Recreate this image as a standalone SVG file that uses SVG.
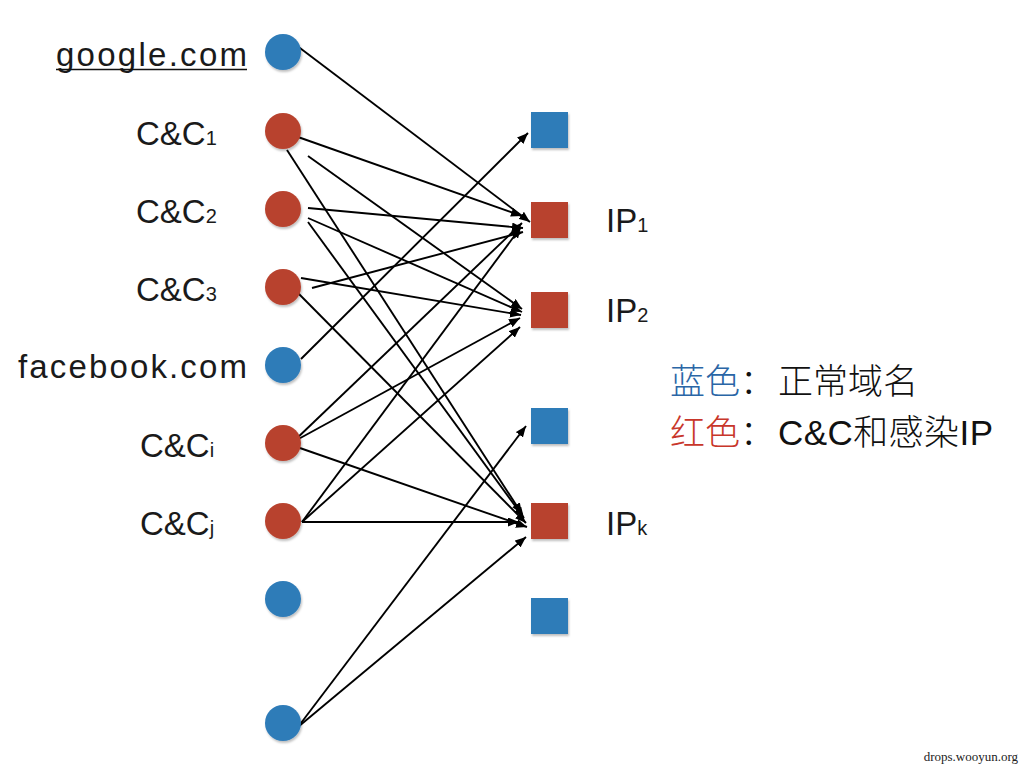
<svg xmlns="http://www.w3.org/2000/svg" width="1024" height="768" viewBox="0 0 1024 768">
<style>
.lbl{font-family:"Liberation Sans","Noto Sans",Arial,sans-serif;font-size:33px;fill:#1a1a1a}
.sub{font-size:20px}
.blue{fill:#2e7bb8}
.red{fill:#b8432f}
.edge{stroke:#000;stroke-width:1.9;fill:none;marker-end:url(#arr)}
.leg{font-family:"Liberation Sans","Noto Sans CJK SC",sans-serif;font-size:35px;fill:#111;font-weight:300}
.wm{font-family:"Liberation Serif",serif;font-size:13px;fill:#222}
</style>
<defs>
<marker id="arr" markerUnits="userSpaceOnUse" markerWidth="11" markerHeight="9" refX="11" refY="4.5" orient="auto">
<path d="M0,0 L11,4.5 L0,9 z" fill="#000"/>
</marker>
<filter id="sh" x="-30%" y="-30%" width="160%" height="160%">
<feDropShadow dx="1" dy="2" stdDeviation="1.2" flood-color="#000" flood-opacity="0.25"/>
</filter>
</defs>
<rect width="1024" height="768" fill="#fff"/>

<g id="connectors">
<line class="edge" x1="292" y1="42" x2="530" y2="222"/>
<line class="edge" x1="298" y1="137" x2="522" y2="216"/>
<line class="edge" x1="287" y1="150" x2="522" y2="514"/>
<line class="edge" x1="308" y1="156" x2="522" y2="309"/>
<line class="edge" x1="308" y1="208" x2="523" y2="228"/>
<line class="edge" x1="308" y1="218" x2="522" y2="312"/>
<line class="edge" x1="308" y1="222" x2="524" y2="518"/>
<line class="edge" x1="312" y1="288" x2="523" y2="232"/>
<line class="edge" x1="301" y1="278" x2="521" y2="315"/>
<line class="edge" x1="298" y1="293" x2="526" y2="523"/>
<line class="edge" x1="301" y1="359" x2="528" y2="133"/>
<line class="edge" x1="293" y1="442" x2="522" y2="223"/>
<line class="edge" x1="293" y1="442" x2="520" y2="318"/>
<line class="edge" x1="297" y1="447" x2="527" y2="527"/>
<line class="edge" x1="302" y1="522" x2="521" y2="227"/>
<line class="edge" x1="302" y1="522" x2="520" y2="327"/>
<line class="edge" x1="302" y1="522" x2="519" y2="522"/>
<line class="edge" x1="298" y1="727" x2="526" y2="426"/>
<line class="edge" x1="298" y1="727" x2="526" y2="537"/>
</g>

<g id="node-google">
<circle class="blue" cx="283" cy="52" r="18" filter="url(#sh)"/>
<text class="lbl" x="247" y="66" text-anchor="end" textLength="191">google.com</text>
<line x1="56" y1="69.5" x2="247" y2="69.5" stroke="#111" stroke-width="1.6"/>
</g>
<g id="node-cc1">
<circle class="red" cx="283" cy="131" r="18" filter="url(#sh)"/>
<text class="lbl" x="136" y="145">C&amp;C<tspan class="sub">1</tspan></text>
</g>
<g id="node-cc2">
<circle class="red" cx="283" cy="209" r="18" filter="url(#sh)"/>
<text class="lbl" x="136" y="223">C&amp;C<tspan class="sub">2</tspan></text>
</g>
<g id="node-cc3">
<circle class="red" cx="283" cy="287" r="18" filter="url(#sh)"/>
<text class="lbl" x="136" y="301">C&amp;C<tspan class="sub">3</tspan></text>
</g>
<g id="node-facebook">
<circle class="blue" cx="283" cy="365" r="18" filter="url(#sh)"/>
<text class="lbl" x="247" y="378" text-anchor="end" textLength="229">facebook.com</text>
</g>
<g id="node-cci">
<circle class="red" cx="283" cy="443" r="18" filter="url(#sh)"/>
<text class="lbl" x="140" y="457">C&amp;C<tspan class="sub">i</tspan></text>
</g>
<g id="node-ccj">
<circle class="red" cx="283" cy="521" r="18" filter="url(#sh)"/>
<text class="lbl" x="140" y="535">C&amp;C<tspan class="sub">j</tspan></text>
</g>
<g id="node-d8">
<circle class="blue" cx="283" cy="599" r="18" filter="url(#sh)"/>
</g>
<g id="node-d9">
<circle class="blue" cx="283" cy="723" r="18" filter="url(#sh)"/>
</g>

<g id="node-ip-a">
<rect class="blue" x="531" y="112" width="37" height="36" filter="url(#sh)"/>
</g>
<g id="node-ip1">
<rect class="red" x="531" y="202" width="37" height="36" filter="url(#sh)"/>
<text class="lbl" x="606" y="232">IP<tspan class="sub">1</tspan></text>
</g>
<g id="node-ip2">
<rect class="red" x="531" y="292" width="37" height="36" filter="url(#sh)"/>
<text class="lbl" x="606" y="322">IP<tspan class="sub">2</tspan></text>
</g>
<g id="node-ip-b">
<rect class="blue" x="531" y="408" width="37" height="36" filter="url(#sh)"/>
</g>
<g id="node-ipk">
<rect class="red" x="531" y="503" width="37" height="36" filter="url(#sh)"/>
<text class="lbl" x="606" y="535">IP<tspan class="sub">k</tspan></text>
</g>
<g id="node-ip-c">
<rect class="blue" x="531" y="598" width="37" height="36" filter="url(#sh)"/>
</g>

<g id="legend">
<text class="leg" x="670" y="394"><tspan fill="#2a66a6">蓝色</tspan>：</text>
<text class="leg" x="778" y="394">正常域名</text>
<text class="leg" x="670" y="445"><tspan fill="#c8362a">红色</tspan>：</text>
<text class="leg" x="778" y="445" textLength="215">C&amp;C和感染IP</text>
</g>

<text class="wm" x="1018" y="761" text-anchor="end">drops.wooyun.org</text>
</svg>
